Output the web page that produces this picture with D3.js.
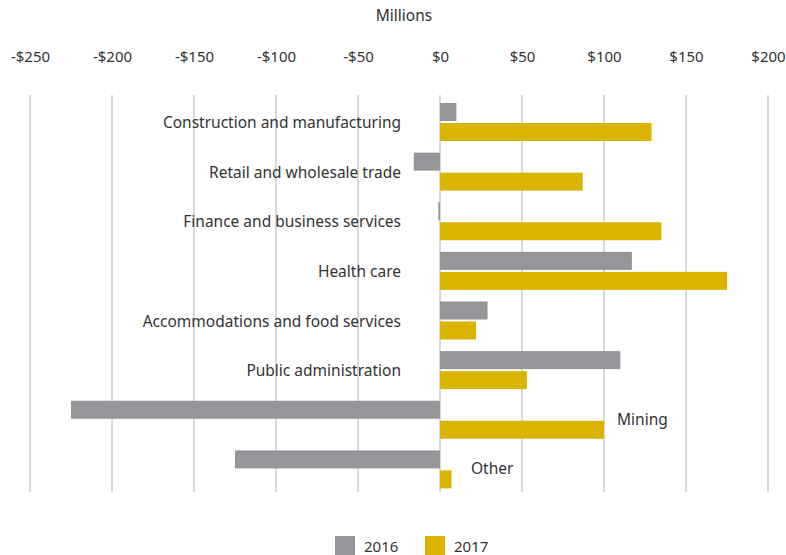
<!DOCTYPE html>
<html>
<head>
<meta charset="utf-8">
<script src="https://cdn.jsdelivr.net/npm/d3@7"></script>
<style>
  html, body { margin: 0; padding: 0; background: #fff; }
  svg text { font-family: "Noto Sans", "Open Sans", sans-serif; fill: #333; }
</style>
</head>
<body>
<svg id="chart" width="786" height="555"></svg>
<script>
// Change in spending by sector, millions of dollars
const categories = [
  "Construction and manufacturing",
  "Retail and wholesale trade",
  "Finance and business services",
  "Health care",
  "Accommodations and food services",
  "Public administration",
  "Mining",
  "Other"
];
const values2016 = [10, -16, -1, 117, 29, 110, -225, -125];
const values2017 = [129, 87, 135, 175, 22, 53, 100, 7];
const seriesNames = ["2016", "2017"];
const seriesColors = ["#96969a", "#dab400"];
const tickValues = [-250, -200, -150, -100, -50, 0, 50, 100, 150, 200];
const axisTitle = "Millions";

const svg = d3.select("#chart");
const fontFamily = "'Noto Sans', 'Open Sans', sans-serif";
const fontSize = "15.5px";

const x = d3.scaleLinear().domain([-250, 200]).range([30, 768]);
const y = d3.scaleBand().domain(categories).range([95, 492]).paddingInner(0).paddingOuter(0);

const barH = 18, barGap = 2, barTop = 8;

// axis title
svg.append("text")
  .attr("x", 404).attr("y", 21)
  .attr("text-anchor", "middle")
  .style("font-size", fontSize)
  .text(axisTitle);

// top axis labels + vertical gridlines
const fmt = v => (v < 0 ? "-$" + Math.abs(v) : "$" + v);
const axis = d3.axisTop(x).tickValues(tickValues).tickFormat(fmt).tickSize(0).tickPadding(0);
const gAxis = svg.append("g").attr("transform", "translate(0,62)").call(axis);
gAxis.select(".domain").remove();
gAxis.selectAll("text").style("font-size", "15px").attr("fill", "#333")
  .style("font-family", fontFamily);

svg.append("g").selectAll("line")
  .data(tickValues)
  .join("line")
  .attr("x1", d => x(d)).attr("x2", d => x(d))
  .attr("y1", 95).attr("y2", 492)
  .attr("stroke", "#b4b4b4").attr("stroke-width", 1);

// bars
const rows = categories.map((c, i) => ({ c, v: [values2016[i], values2017[i]] }));
const gBars = svg.append("g");
rows.forEach(r => {
  r.v.forEach((v, s) => {
    gBars.append("rect")
      .attr("x", x(Math.min(0, v)))
      .attr("width", Math.abs(x(v) - x(0)))
      .attr("y", y(r.c) + barTop + s * (barH + barGap))
      .attr("height", barH)
      .attr("fill", seriesColors[s]);
  });
});

// category labels: left of zero, or right of the bars when 2016 runs far negative
rows.forEach(r => {
  const right = r.v[0] < -100;
  const ly = y(r.c) + barTop + barH + barGap / 2 + (right ? 5 : 6);
  const rx = Math.max(x(Math.max(0, r.v[1])) + 13, x(0) + 31);
  svg.append("text")
    .attr("x", right ? rx : 401)
    .attr("y", ly)
    .attr("text-anchor", right ? "start" : "end")
    .style("font-size", fontSize)
    .text(r.c);
});

// legend
const legend = svg.append("g");
const legX = [335, 425];
seriesNames.forEach((n, i) => {
  legend.append("rect")
    .attr("x", legX[i]).attr("y", 536)
    .attr("width", 20).attr("height", 20)
    .attr("fill", seriesColors[i]);
  legend.append("text")
    .attr("x", legX[i] + 29).attr("y", 552)
    .style("font-size", "15px")
    .text(n);
});
</script>
</body>
</html>
